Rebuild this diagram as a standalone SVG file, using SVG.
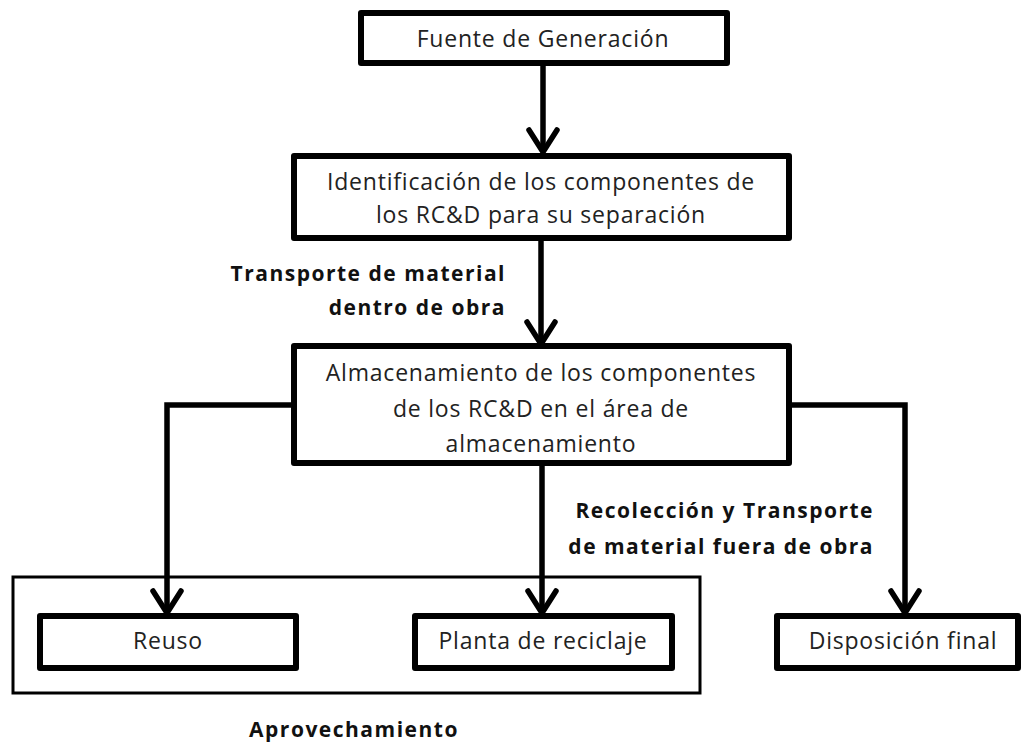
<svg xmlns="http://www.w3.org/2000/svg" width="1022" height="743" viewBox="0 0 1022 743">
<style>
.box{fill:#fff;stroke:#000;stroke-width:6;stroke-linejoin:round}
.outer{fill:none;stroke:#000;stroke-width:3}
.line{fill:none;stroke:#000;stroke-width:5.5;stroke-linejoin:miter}
.head{fill:none;stroke:#000;stroke-width:5.5;stroke-linecap:round;stroke-linejoin:round}
.t{font-family:"Open Sans","Noto Sans",sans-serif;font-size:23px;letter-spacing:0.8px;fill:#222;text-anchor:middle}
.b{font-family:"Open Sans","Noto Sans",sans-serif;font-size:21px;letter-spacing:1.5px;font-weight:bold;fill:#111}
</style>
<rect width="1022" height="743" fill="#fff"/>
<g id="grupo-aprovechamiento">
<rect class="outer" x="13" y="577" width="687" height="116"/>
<text class="b" x="354" y="737" text-anchor="middle">Aprovechamiento</text>
</g>
<g id="connectors">
<line class="line" x1="543" y1="63" x2="543" y2="152"/>
<polyline class="head" points="529,130 543,152 557,130"/>
<line class="line" x1="541" y1="238" x2="541" y2="344"/>
<polyline class="head" points="527,322 541,344 555,322"/>
<polyline class="line" points="293,405 167,405 167,613"/>
<polyline class="head" points="153,591 167,613 181,591"/>
<line class="line" x1="542" y1="463" x2="542" y2="613"/>
<polyline class="head" points="528,591 542,613 556,591"/>
<polyline class="line" points="789,405 905,405 905,613"/>
<polyline class="head" points="891,591 905,613 919,591"/>
<text class="b" x="506" y="281" text-anchor="end">Transporte de material</text>
<text class="b" x="506" y="315" text-anchor="end">dentro de obra</text>
<text class="b" x="874" y="518" text-anchor="end">Recolección y Transporte</text>
<text class="b" x="874" y="554" text-anchor="end">de material fuera de obra</text>
</g>
<g id="fuente">
<rect class="box" x="361" y="13" width="366" height="50"/>
<text class="t" x="543" y="47">Fuente de Generación</text>
</g>
<g id="identificacion">
<rect class="box" x="294" y="156" width="495" height="82"/>
<text class="t" x="541" y="190">Identificación de los componentes  de</text>
<text class="t" x="541" y="223">los RC&amp;D para su separación</text>
</g>
<g id="almacenamiento">
<rect class="box" x="294" y="346" width="495" height="117"/>
<text class="t" x="541" y="381">Almacenamiento de los componentes</text>
<text class="t" x="541" y="417">de los RC&amp;D en el área de</text>
<text class="t" x="541" y="452">almacenamiento</text>
</g>
<g id="reuso">
<rect class="box" x="40" y="616" width="256" height="52"/>
<text class="t" x="168" y="649">Reuso</text>
</g>
<g id="planta">
<rect class="box" x="415" y="616" width="257" height="52"/>
<text class="t" x="543" y="649">Planta de reciclaje</text>
</g>
<g id="disposicion">
<rect class="box" x="777" y="616" width="241" height="52"/>
<text class="t" x="903" y="649">Disposición final</text>
</g>
</svg>
